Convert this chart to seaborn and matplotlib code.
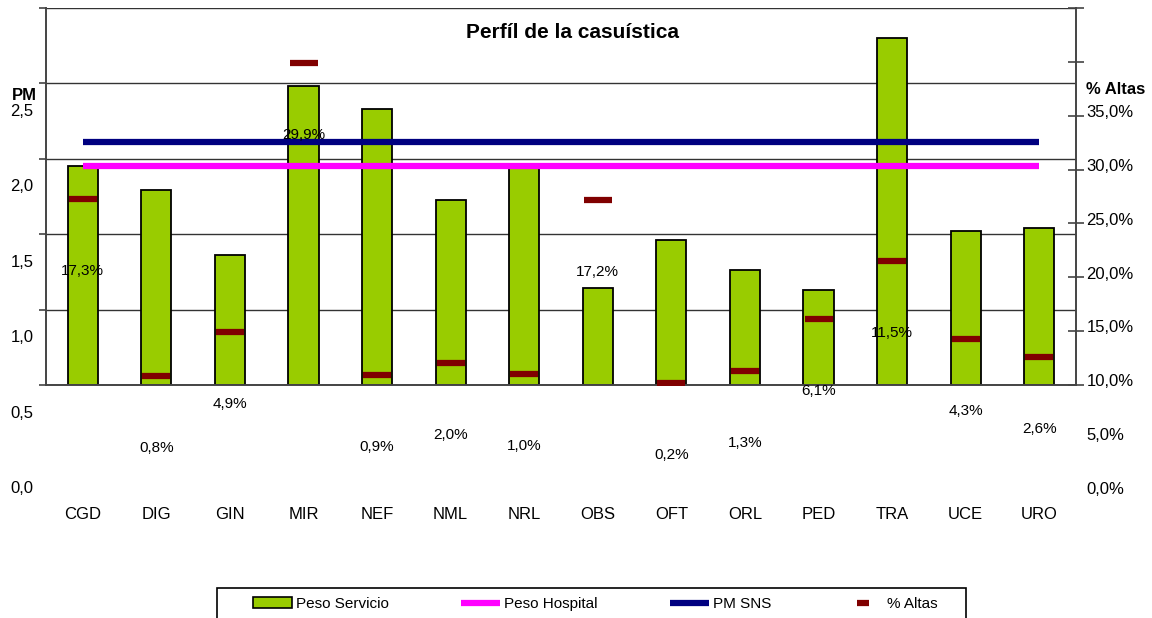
import matplotlib
matplotlib.use("Agg")
import matplotlib.pyplot as plt
import matplotlib.transforms as mtransforms
from matplotlib.patches import Patch, Rectangle
from matplotlib.lines import Line2D
import seaborn as sns
import numpy as np

# datos del grafico
categorias = ['CGD', 'DIG', 'GIN', 'MIR', 'NEF', 'NML', 'NRL', 'OBS', 'OFT', 'ORL', 'PED', 'TRA', 'UCE', 'URO']
peso_servicio = [1.45, 1.29, 0.86, 1.98, 1.83, 1.23, 1.45, 0.64, 0.96, 0.76, 0.63, 2.30, 1.02, 1.04]
peso_hospital = [1.45] * 14
pm_sns = [1.61] * 14
pct_altas = [17.3, 0.8, 4.9, 29.9, 0.9, 2.0, 1.0, 17.2, 0.2, 1.3, 6.1, 11.5, 4.3, 2.6]

pm_ticks = [0.0, 0.5, 1.0, 1.5, 2.0, 2.5]
altas_ticks = [0, 5, 10, 15, 20, 25, 30, 35]

sns.set_style('white')
plt.rcParams['font.family'] = ['Liberation Sans', 'DejaVu Sans']
plt.rcParams['text.color'] = 'black'
plt.rcParams['xtick.labelcolor'] = 'black'
plt.rcParams['ytick.labelcolor'] = 'black'

fig = plt.figure(figsize=(11.52, 6.18), dpi=100)
ax = fig.add_axes([46 / 1152, 1 - 385 / 618, 1030 / 1152, 377 / 618])

x = np.arange(len(categorias))

# barras
sns.barplot(x=categorias, y=peso_servicio, color='#99CC00', edgecolor='black',
            linewidth=1.3, width=0.41, saturation=1, ax=ax, zorder=2)

# lineas de referencia
sns.lineplot(x=x, y=peso_hospital, color='#FF00FF', linewidth=4.5, solid_capstyle='butt', ax=ax, zorder=3)
sns.lineplot(x=x, y=pm_sns, color='#000080', linewidth=4.5, solid_capstyle='butt', ax=ax, zorder=3)

ax.set_xlim(-0.5, len(categorias) - 0.5)
ax.set_ylim(0, 2.5)
ax.set_yticks(pm_ticks)
ax.set_yticklabels([f"{t:.1f}".replace('.', ',') for t in pm_ticks])
ax.set_xticks(x)
ax.set_xticklabels(categorias)
ax.set_xticks(np.arange(-0.5, len(categorias), 1.0), minor=True)
ax.grid(axis='y', color='#333333', linewidth=1, zorder=0)
ax.set_axisbelow(True)
ax.set_xlabel('')
ax.set_ylabel('')
for s in ['top', 'right']:
    ax.spines[s].set_visible(False)
for s in ['left', 'bottom']:
    ax.spines[s].set_color('#444444')
    ax.spines[s].set_linewidth(1.4)
ax.tick_params(axis='x', which='major', length=0, pad=88, labelsize=12)
ax.tick_params(axis='x', which='minor', length=5, width=1.2, color='#444444', direction='out')
ax.tick_params(axis='y', length=5, width=1.2, color='#444444', direction='out', labelsize=12, pad=4, left=True)

# eje derecho: % altas
ax2 = ax.twinx()
ax2.plot(x, pct_altas, linestyle='none', marker='_', markersize=20, markeredgewidth=4.5,
         color='#800000', zorder=4)
ax2.set_ylim(0, 35)
ax2.set_yticks(altas_ticks)
ax2.set_yticklabels([f"{t:.1f}%".replace('.', ',') for t in altas_ticks])
ax2.grid(False)
for s in ['top', 'left', 'bottom']:
    ax2.spines[s].set_visible(False)
ax2.spines['right'].set_color('#444444')
ax2.spines['right'].set_linewidth(1.4)
ax2.tick_params(axis='y', length=11, width=1.2, color='#444444', direction='inout',
                labelsize=12, pad=2, right=True)

for i, v in enumerate(pct_altas):
    ax2.annotate(f"{v:.1f}%".replace('.', ','), (i, v), xytext=(0, -72), textcoords='offset pixels',
                 ha='center', va='center', fontsize=11, zorder=5)

# etiquetas de los ejes desplazadas hacia abajo como en el original
off_l = mtransforms.ScaledTranslation(0, -1.02, fig.dpi_scale_trans)
for lbl in ax.get_yticklabels():
    lbl.set_transform(lbl.get_transform() + off_l)
off_r = mtransforms.ScaledTranslation(0, -1.03, fig.dpi_scale_trans)
for lbl in ax2.get_yticklabels():
    lbl.set_transform(lbl.get_transform() + off_r)

fig.text(12 / 1152, 1 - 95 / 618, 'PM', fontsize=12, fontweight='bold', ha='left', va='center')
fig.text(1086 / 1152, 1 - 90 / 618, '% Altas', fontsize=12, fontweight='bold', ha='left', va='center')
fig.text(573 / 1152, 1 - 33 / 618, 'Perfíl de la casuística', fontsize=15, fontweight='bold',
         ha='center', va='center')

# leyenda (marco dibujado aparte, cortado por el borde inferior)
handles = [
    Patch(facecolor='#99CC00', edgecolor='black', linewidth=1.2),
    Line2D([0], [0], color='#FF00FF', linewidth=4.5, solid_capstyle='butt'),
    Line2D([0], [0], color='#000080', linewidth=4.5, solid_capstyle='butt'),
    Line2D([0], [0], color='#800000', linestyle='none', marker='_', markersize=9, markeredgewidth=4.5),
]
labels = ['Peso Servicio', 'Peso Hospital', 'PM SNS', '% Altas']
fig.legend(handles, labels, loc='center left', bbox_to_anchor=(253 / 1152, 1 - 604 / 618),
           ncol=4, fontsize=11, frameon=False, borderpad=0, handlelength=2.55,
           handletextpad=0.25, columnspacing=4.75, borderaxespad=0)
fig.add_artist(Rectangle((217 / 1152, -0.05), (966 - 217) / 1152, 0.05 + 1 - 588 / 618,
                         transform=fig.transFigure, fill=False, edgecolor='black', linewidth=1.2))

fig.savefig('out.png', dpi=100, facecolor='white')
